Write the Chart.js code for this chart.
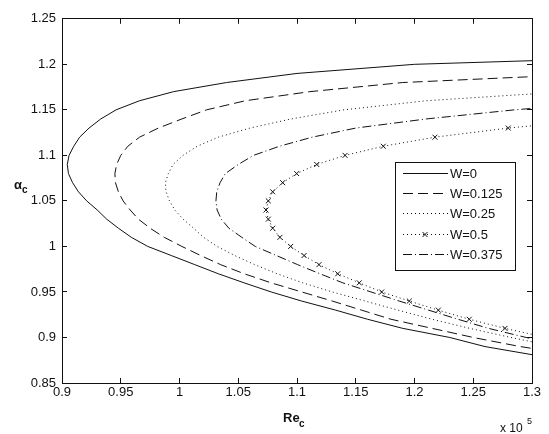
<!DOCTYPE html>
<html>
<head>
<meta charset="utf-8">
<script src="https://cdn.jsdelivr.net/npm/chart.js@4.4.0/dist/chart.umd.min.js"></script>
<style>
html,body{margin:0;padding:0;background:#fff;}
canvas{display:block;}
</style>
</head>
<body>
<canvas id="c" width="549" height="434"></canvas>
<script>
// neutral curves Re_c / alpha_c for several W

const xTicks = [0.9, 0.95, 1, 1.05, 1.1, 1.15, 1.2, 1.25, 1.3];
const xTickLabels = ['0.9','0.95','1','1.05','1.1','1.15','1.2','1.25','1.3'];
const yTicks = [0.85, 0.9, 0.95, 1, 1.05, 1.1, 1.15, 1.2, 1.25];
const yTickLabels = ['0.85','0.9','0.95','1','1.05','1.1','1.15','1.2','1.25'];

// W = 0
const alphaW0 = [1.21,1.20,1.19,1.18,1.17,1.16,1.15,1.14,1.13,1.12,1.11,1.10,1.09,1.08,1.07,1.06,1.05,1.04,1.03,1.02,1.01,1.00,0.99,0.98,0.97,0.96,0.95,0.94,0.93,0.92,0.91,0.90,0.89,0.88,0.87];
const reW0    = [1.45,1.20,1.10,1.04,0.995,0.966,0.946,0.933,0.923,0.915,0.910,0.906,0.9045,0.9055,0.909,0.914,0.921,0.930,0.938,0.948,0.959,0.973,0.993,1.013,1.033,1.055,1.078,1.104,1.133,1.16,1.19,1.23,1.26,1.305,1.35];

// W = 0.125
const alphaW0125 = [1.19,1.18,1.17,1.16,1.15,1.14,1.13,1.12,1.11,1.10,1.09,1.08,1.07,1.06,1.05,1.04,1.03,1.02,1.01,1.00,0.99,0.98,0.97,0.96,0.95,0.94,0.93,0.92,0.91,0.90,0.89,0.88];
const reW0125    = [1.36,1.19,1.111,1.056,1.023,1.002,0.982,0.966,0.956,0.950,0.9465,0.945,0.9455,0.948,0.952,0.958,0.965,0.975,0.987,1.002,1.018,1.035,1.055,1.078,1.104,1.13,1.155,1.18,1.215,1.25,1.29,1.34];

// W = 0.25
const alphaW025 = [1.17,1.16,1.15,1.14,1.13,1.12,1.11,1.10,1.09,1.08,1.07,1.06,1.05,1.04,1.03,1.02,1.01,1.00,0.99,0.98,0.97,0.96,0.95,0.94,0.93,0.92,0.91,0.90,0.89];
const reW025    = [1.33,1.21,1.14,1.095,1.06,1.033,1.015,1.003,0.9945,0.9905,0.988,0.9885,0.9915,0.996,1.003,1.012,1.0205,1.032,1.047,1.064,1.083,1.105,1.13,1.158,1.186,1.215,1.247,1.282,1.32];

// W = 0.5 (markers)
const alphaW05 = [1.14,1.13,1.12,1.11,1.10,1.09,1.08,1.07,1.06,1.05,1.04,1.03,1.02,1.01,1.00,0.99,0.98,0.97,0.96,0.95,0.94,0.93,0.92,0.91,0.90];
const reW05    = [1.36,1.2798,1.2174,1.1734,1.1409,1.1168,1.0997,1.0878,1.0793,1.0756,1.0736,1.0756,1.0793,1.0855,1.0946,1.106,1.1187,1.1347,1.153,1.1721,1.1956,1.2203,1.2466,1.277,1.312];

// W = 0.375
const alphaW0375 = [1.16,1.15,1.14,1.13,1.12,1.11,1.10,1.09,1.08,1.07,1.06,1.05,1.04,1.03,1.02,1.01,1.00,0.99,0.98,0.97,0.96,0.95,0.94,0.93,0.92,0.91,0.90,0.89];
const reW0375    = [1.38,1.285,1.21,1.15,1.113,1.085,1.063,1.05,1.039,1.0345,1.0317,1.031,1.032,1.0355,1.042,1.053,1.0645,1.0825,1.1005,1.1195,1.139,1.163,1.187,1.212,1.237,1.263,1.295,1.33];

const FONT = '"Liberation Sans", Arial, sans-serif';
const INK = '#111';

const pts = (re, al) => re.map((x, i) => ({ x, y: al[i] }));
const curve = (label, re, al, dash, extra) => Object.assign({
  label, data: pts(re, al), showLine: true, borderColor: INK, borderWidth: 1,
  borderDash: dash, pointRadius: 0, fill: false, clip: 0
}, extra || {});

const datasets = [
  curve('W=0', reW0, alphaW0, []),
  curve('W=0.125', reW0125, alphaW0125, [10, 5]),
  curve('W=0.25', reW025, alphaW025, [1, 3]),
  curve('W=0.5', reW05, alphaW05, [1, 3], { pointStyle: 'crossRot', pointRadius: 3.5, pointBorderColor: INK, pointBorderWidth: 1, pointBackgroundColor: INK }),
  curve('W=0.375', reW0375, alphaW0375, [9, 3, 1, 3])
];

const tickFont = { family: FONT, size: 13 };
const setTicks = vals => s => { s.ticks = vals.map(v => ({ value: v })); };
const inwardGrid = { drawOnChartArea: false, tickLength: -5, color: INK, lineWidth: 1 };

// labels + boxed legend
const decor = {
  id: 'decor',
  afterDraw(chart) {
    const ctx = chart.ctx;
    ctx.save();
    ctx.fillStyle = INK;
    ctx.textAlign = 'left';
    ctx.textBaseline = 'alphabetic';
    ctx.font = 'bold 13px ' + FONT;
    ctx.fillText('Re', 283, 422);
    ctx.fillText('\u03b1', 14, 189);
    ctx.font = 'bold 10px ' + FONT;
    ctx.fillText('c', 299, 427);
    ctx.fillText('c', 22, 193);
    ctx.font = '12px ' + FONT;
    ctx.fillText('x 10', 500, 432);
    ctx.font = '9px ' + FONT;
    ctx.fillText('5', 527, 424);

    // legend box
    const bx = 395.5, by = 162.5, bw = 120, bh = 108;
    ctx.fillStyle = '#fff';
    ctx.fillRect(bx, by, bw, bh);
    ctx.strokeStyle = INK;
    ctx.lineWidth = 1;
    ctx.setLineDash([]);
    ctx.strokeRect(bx, by, bw, bh);
    ctx.font = '13px ' + FONT;
    ctx.textBaseline = 'middle';
    chart.data.datasets.forEach((ds, i) => {
      const y = Math.round(173 + i * 20.2) + 0.5;
      ctx.strokeStyle = INK;
      ctx.setLineDash(ds.borderDash);
      ctx.beginPath();
      ctx.moveTo(403, y);
      ctx.lineTo(448, y);
      ctx.stroke();
      ctx.setLineDash([]);
      if (ds.pointRadius) {
        Chart.helpers.drawPoint(ctx, { pointStyle: ds.pointStyle, radius: ds.pointRadius, borderWidth: 1, rotation: 0 }, 425, y);
      }
      ctx.fillStyle = INK;
      ctx.fillText(ds.label, 450, y + 1);
    });
    ctx.restore();
  }
};

new Chart(document.getElementById('c'), {
  type: 'scatter',
  data: { datasets },
  options: {
    responsive: false,
    animation: false,
    layout: { padding: 0 },
    plugins: { legend: { display: false }, tooltip: { enabled: false } },
    scales: {
      x: {
        type: 'linear', position: 'bottom', min: 0.9, max: 1.3,
        afterBuildTicks: setTicks(xTicks),
        afterFit: s => { s.height = 51; },
        grid: inwardGrid,
        border: { color: INK },
        ticks: { font: tickFont, color: INK, padding: 7, maxRotation: 0, callback: (v, i) => xTickLabels[i] }
      },
      x2: {
        type: 'linear', position: 'top', min: 0.9, max: 1.3,
        afterBuildTicks: setTicks(xTicks),
        afterFit: s => { s.height = 13; },
        grid: inwardGrid,
        border: { color: INK },
        ticks: { display: false }
      },
      y: {
        type: 'linear', position: 'left', min: 0.85, max: 1.25,
        afterBuildTicks: setTicks(yTicks),
        afterFit: s => { s.width = 62; },
        grid: inwardGrid,
        border: { color: INK },
        ticks: { font: tickFont, color: INK, padding: 11, callback: (v, i) => yTickLabels[i] }
      },
      y2: {
        type: 'linear', position: 'right', min: 0.85, max: 1.25,
        afterBuildTicks: setTicks(yTicks),
        afterFit: s => { s.width = 17; },
        grid: inwardGrid,
        border: { color: INK },
        ticks: { display: false }
      }
    }
  },
  plugins: [decor]
});
</script>
</body>
</html>
